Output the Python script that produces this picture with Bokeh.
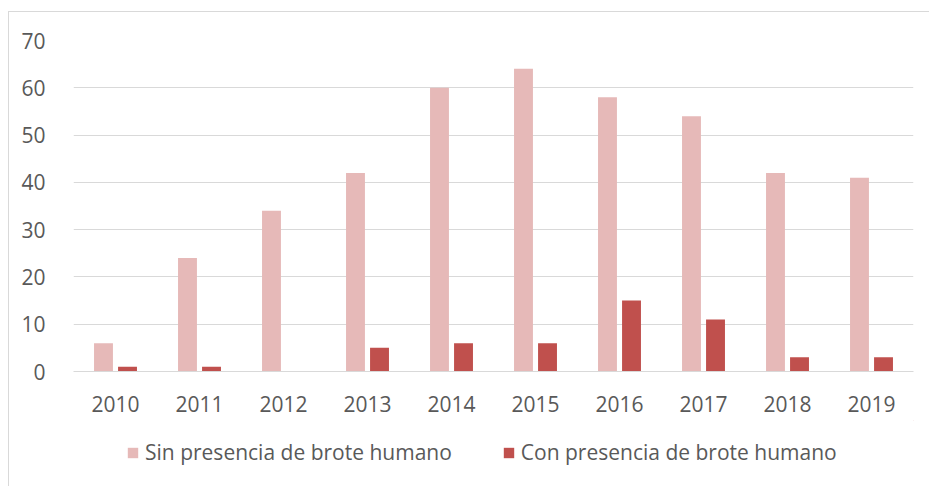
from bokeh.plotting import figure
from bokeh.layouts import column
from bokeh.models import ColumnDataSource, FactorRange, Range1d, Legend, LegendItem, SingleIntervalTicker
from bokeh.transform import dodge
from bokeh.embed import file_html
from bokeh.resources import INLINE

years = ["2010", "2011", "2012", "2013", "2014", "2015", "2016", "2017", "2018", "2019"]
sin_brote = [6, 24, 34, 42, 60, 64, 58, 54, 42, 41]
con_brote = [1, 1, 0, 5, 6, 6, 15, 11, 3, 3]
series_names = ["Sin presencia de brote humano", "Con presencia de brote humano"]
colors = ["#E6B9B8", "#C0504D"]

src = ColumnDataSource(dict(year=years, sin=sin_brote, con=con_brote))

FONT = "Open Sans"
TXT = "#595959"
FS = "21px"

p = figure(width=920, height=408, output_backend="svg", toolbar_location=None,
           x_range=FactorRange(*years, range_padding=0), y_range=Range1d(0, 70),
           min_border_left=64, min_border_right=16, min_border_top=28, min_border_bottom=49)

p.vbar(x=dodge("year", -0.143, range=p.x_range), top="sin", width=0.225, source=src,
       fill_color=colors[0], line_color=None)
p.vbar(x=dodge("year", 0.143, range=p.x_range), top="con", width=0.225, source=src,
       fill_color=colors[1], line_color=None)

p.outline_line_color = None
p.xgrid.grid_line_color = None
p.ygrid.grid_line_color = "#d9d9d9"
p.ygrid.grid_line_width = 1
p.yaxis.ticker = SingleIntervalTicker(interval=10)
p.yaxis.axis_line_color = None
p.yaxis.major_tick_line_color = None
p.yaxis.minor_tick_line_color = None
p.yaxis.major_label_standoff = 22
p.xaxis.axis_line_color = "#d9d9d9"
p.xaxis.major_tick_line_color = None
p.xaxis.major_label_standoff = 18
for ax in (p.xaxis, p.yaxis):
    ax.major_label_text_font = FONT
    ax.major_label_text_font_size = FS
    ax.major_label_text_color = TXT

# legend strip (glyph renderers kept outside the visible range; used only for swatches)
lg = figure(width=920, height=66, output_backend="svg", toolbar_location=None,
            x_range=Range1d(0, 1), y_range=Range1d(0, 1),
            min_border_left=0, min_border_right=0, min_border_top=0, min_border_bottom=0)
lg.axis.visible = False
lg.grid.visible = False
lg.outline_line_color = None
dummy = ColumnDataSource(dict(x=[5], top=[5]))
g1 = lg.vbar(x="x", top="top", bottom=4, width=0.1, source=dummy, fill_color=colors[0], line_color=None)
g2 = lg.vbar(x="x", top="top", bottom=4, width=0.1, source=dummy, fill_color=colors[1], line_color=None)
legend = Legend(items=[LegendItem(label=series_names[0], renderers=[g1]),
                       LegendItem(label=series_names[1], renderers=[g2])],
                orientation="horizontal", location=(53, 20),
                label_text_font=FONT, label_text_font_size=FS, label_text_color=TXT,
                glyph_width=13, glyph_height=13, label_standoff=6, spacing=50,
                border_line_color=None, background_fill_alpha=0, padding=0, margin=0)
lg.add_layout(legend)

layout = column(p, lg, spacing=0,
                styles={"margin-left": "8px", "margin-top": "11px",
                        "border-left": "1px solid #d9d9d9", "border-top": "1px solid #d9d9d9"})

open("out.html", "w").write(file_html(layout, INLINE))
